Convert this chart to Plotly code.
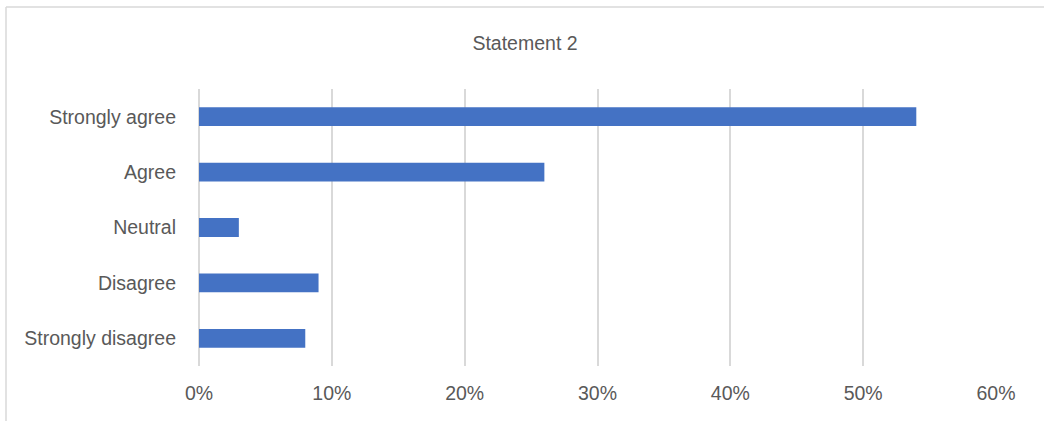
import plotly.graph_objects as go

categories = ["Strongly disagree", "Disagree", "Neutral", "Agree", "Strongly agree"]
values = [0.08, 0.09, 0.03, 0.26, 0.54]
tick_vals = [0, 0.1, 0.2, 0.3, 0.4, 0.5, 0.6]
tick_text = ["0%", "10%", "20%", "30%", "40%", "50%", "60%"]

W, H = 1044, 421
L, R, T, B = 199, 48, 89, 55
pw, ph = W - L - R, H - T - B

def px_x(x):
    return (x - L) / pw

def px_y(y):
    return (H - B - y) / ph

FONT = "Liberation Sans, Arial, sans-serif"
FS = 19.5

fig = go.Figure(go.Bar(
    x=values, y=categories, orientation="h",
    marker=dict(color="#4472C4", line=dict(width=0)),
    width=0.34,
))

fig.update_layout(
    width=W, height=H,
    margin=dict(l=L, r=R, t=T, b=B, autoexpand=False),
    paper_bgcolor="white", plot_bgcolor="white",
    font=dict(family=FONT, color="#595959"),
    title=dict(text="Statement 2", x=525 / W, xanchor="center", y=1 - 43 / H, yanchor="middle",
               font=dict(size=FS, color="#595959", family=FONT)),
    showlegend=False,
    xaxis=dict(range=[0, 0.6], tickvals=tick_vals, ticktext=tick_text,
               showgrid=True, gridcolor="#D9D9D9", gridwidth=1.5,
               zeroline=True, zerolinecolor="#D9D9D9", zerolinewidth=1.5,
               showline=False, ticks="", automargin=False,
               tickfont=dict(size=FS, color="#595959", family=FONT), ticklabelstandoff=13,
               fixedrange=True),
    yaxis=dict(categoryorder="array", categoryarray=categories,
               showgrid=False, zeroline=False, showline=False, ticks="", automargin=False,
               tickfont=dict(size=FS, color="#595959", family=FONT), ticklabelstandoff=22,
               fixedrange=True),
    shapes=[
        dict(type="line", xref="paper", yref="paper",
             x0=px_x(6), x1=px_x(W + 5), y0=px_y(7), y1=px_y(7),
             line=dict(color="#D9D9D9", width=1.5)),
        dict(type="line", xref="paper", yref="paper",
             x0=px_x(6), x1=px_x(6), y0=px_y(7), y1=px_y(H + 5),
             line=dict(color="#D9D9D9", width=1.5)),
    ],
)

fig.write_html("out.html", config={"displayModeBar": False},
               post_script="document.body.style.margin='0';document.body.style.padding='0';")
